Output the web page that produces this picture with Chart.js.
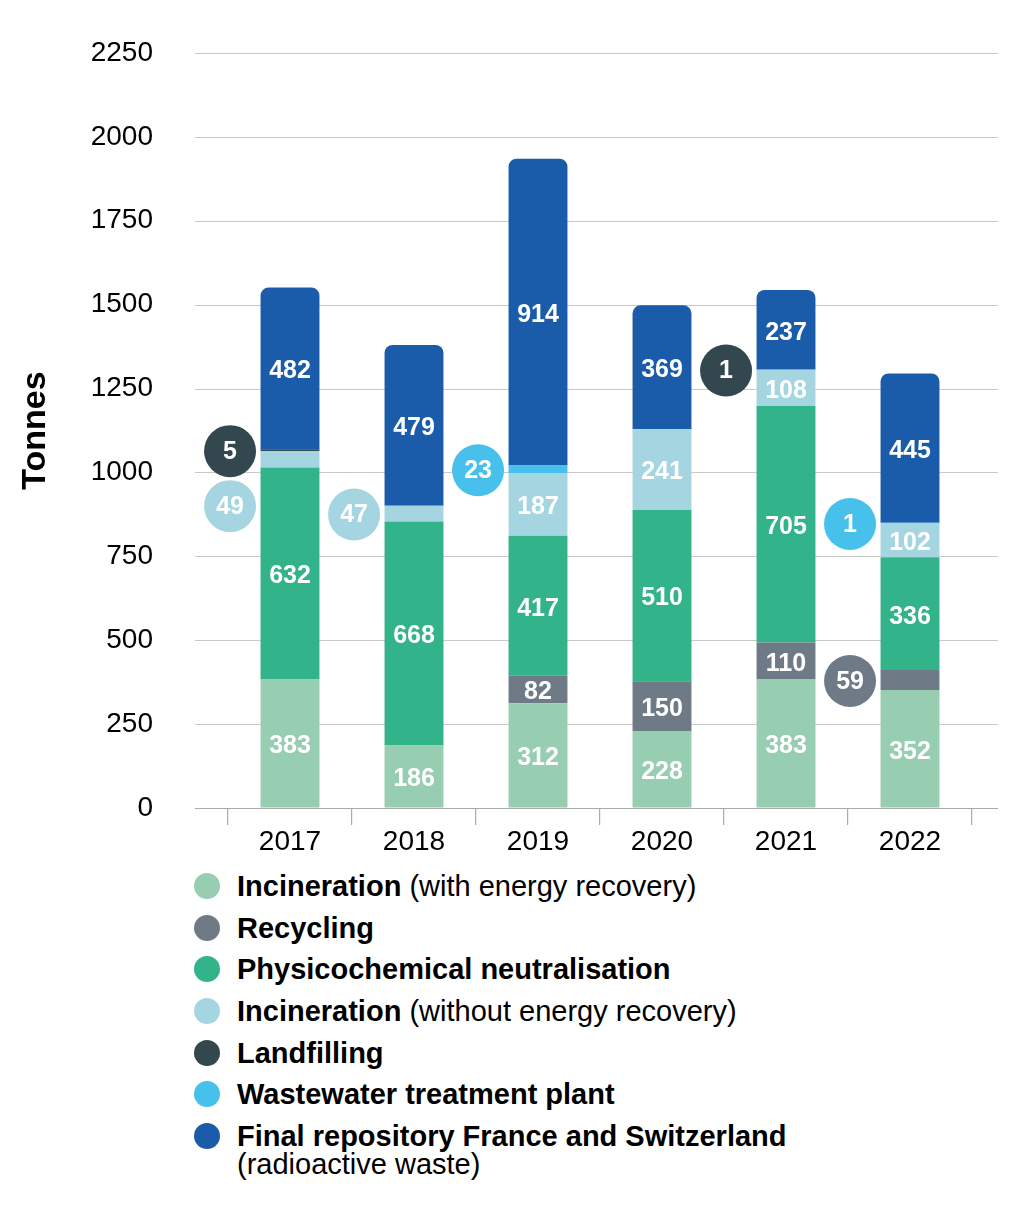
<!DOCTYPE html>
<html>
<head>
<meta charset="utf-8">
<script src="https://cdn.jsdelivr.net/npm/chart.js@4.4.1/dist/chart.umd.min.js"></script>
<style>
  html, body { margin: 0; padding: 0; background: #fff; }
  #wrap { position: relative; width: 1030px; height: 1227px; }
  #chart { position: absolute; left: 0; top: 0; }
  #legend {
    position: absolute; left: 194px; top: 872px;
    font-family: "Liberation Sans", Arial, sans-serif; font-size: 29px; color: #000;
  }
  .item { position: relative; padding-left: 43px; line-height: 28px; margin-bottom: 13.7px; white-space: pre-line; }
  .item b { font-weight: bold; }
  .dot { position: absolute; left: 0; top: 1px; width: 26px; height: 26px; border-radius: 50%; }
</style>
</head>
<body>
<div id="wrap">
  <canvas id="chart" width="1030" height="870" style="width:1030px;height:870px"></canvas>
  <div id="legend"></div>
</div>
<script>
// Datos del gráfico (toneladas por año)
const years = ["2017", "2018", "2019", "2020", "2021", "2022"];
const incinerationEnergy = [383, 186, 312, 228, 383, 352];
const recycling = [0, 0, 82, 150, 110, 59];
const physicochemical = [632, 668, 417, 510, 705, 336];
const incinerationNoEnergy = [49, 47, 187, 241, 108, 102];
const landfilling = [5, 0, 0, 0, 1, 0];
const wastewater = [0, 0, 23, 0, 0, 1];
const finalRepository = [482, 479, 914, 369, 237, 445];

const yMin = 0, yMax = 2250, yStep = 250;

const seriesNames = ["Incineration", "Recycling", "Physicochemical neutralisation", "Incineration",
  "Landfilling", "Wastewater treatment plant", "Final repository France and Switzerland"];
const seriesNotes = [" (with energy recovery)", "", "", " (without energy recovery)", "", "", "\n(radioactive waste)"];
const seriesColors = ["#97cdb0", "#6f7a87", "#33b389", "#a6d5e2", "#33474f", "#48c0ec", "#1a5ca9"];
const seriesValues = [incinerationEnergy, recycling, physicochemical, incinerationNoEnergy, landfilling, wastewater, finalRepository];

const FONT = '"Liberation Sans", Arial, sans-serif';

// Leyenda en HTML
const legend = document.getElementById("legend");
seriesNames.forEach((name, i) => {
  const item = document.createElement("div");
  item.className = "item";
  item.innerHTML = `<span class="dot" style="background:${seriesColors[i]}"></span><b>${name}</b>${seriesNotes[i]}`;
  legend.appendChild(item);
});

// Líneas de cuadrícula más anchas que el área de barras
const gridPlugin = {
  id: "wideGrid",
  beforeDatasetsDraw(chart) {
    const { ctx, chartArea, scales } = chart;
    ctx.save();
    ctx.strokeStyle = "#c8c8c8";
    ctx.lineWidth = 1.2;
    for (let v = yMin + yStep; v <= yMax; v += yStep) {
      const y = Math.round(scales.y.getPixelForValue(v)) + 0.5;
      ctx.beginPath();
      ctx.moveTo(chartArea.left - 33, y);
      ctx.lineTo(chartArea.right + 26, y);
      ctx.stroke();
    }
    ctx.restore();
  },
  afterDatasetsDraw(chart) {
    const { ctx, chartArea, scales } = chart;
    const y = Math.round(scales.y.getPixelForValue(0)) + 0.5;
    ctx.save();
    ctx.strokeStyle = "#aaaaaa";
    ctx.lineWidth = 1.2;
    ctx.beginPath();
    ctx.moveTo(chartArea.left - 33, y);
    ctx.lineTo(chartArea.right + 26, y);
    ctx.stroke();
    ctx.restore();
  }
};

// Etiquetas dentro de las barras y burbujas para valores pequeños
const labelPlugin = {
  id: "barLabels",
  afterDatasetsDraw(chart) {
    const { ctx } = chart;
    const bubbles = years.map(() => []);
    ctx.save();
    ctx.font = `bold 25px ${FONT}`;
    ctx.textAlign = "center";
    ctx.textBaseline = "middle";
    ctx.fillStyle = "#fff";
    chart.data.datasets.forEach((ds, di) => {
      const meta = chart.getDatasetMeta(di);
      meta.data.forEach((bar, i) => {
        const v = ds.data[i];
        if (!v) return;
        const mid = (bar.y + bar.base) / 2;
        if (v >= 70) {
          ctx.fillText(String(v), bar.x, mid + 3);
        } else {
          bubbles[i].push({ x: bar.x - bar.width / 2 - 30.5, y: mid, v, color: ds.backgroundColor });
        }
      });
    });
    const r = 26;
    bubbles.forEach(list => {
      list.sort((a, b) => a.y - b.y);
      let prev = null;
      list.forEach(b => {
        if (prev !== null && b.y < prev + 2 * r + 3) b.y = prev + 2 * r + 3;
        prev = b.y;
        ctx.beginPath();
        ctx.arc(b.x, b.y + 1, r, 0, Math.PI * 2);
        ctx.fillStyle = b.color;
        ctx.fill();
        ctx.fillStyle = "#fff";
        ctx.fillText(String(b.v), b.x, b.y + 2);
      });
    });
    ctx.restore();
  }
};

const datasets = seriesNames.map((name, i) => ({
  label: name + seriesNotes[i].replace("\n", " "),
  data: seriesValues[i],
  backgroundColor: seriesColors[i],
  borderWidth: 0,
  borderRadius: i === seriesNames.length - 1 ? 8 : 0,
  barPercentage: 0.95,
  categoryPercentage: 0.5
}));

new Chart(document.getElementById("chart"), {
  type: "bar",
  data: { labels: years, datasets: datasets },
  plugins: [gridPlugin, labelPlugin],
  options: {
    responsive: false,
    maintainAspectRatio: false,
    animation: false,
    layout: { padding: { top: 53, right: 58, bottom: 0, left: 0 } },
    plugins: { legend: { display: false }, tooltip: { enabled: false } },
    scales: {
      x: {
        stacked: true,
        grid: { display: true, drawOnChartArea: false, drawTicks: true, tickLength: 17, color: "#aaaaaa", lineWidth: 1.2, offset: true },
        border: { display: false },
        ticks: { font: { family: FONT, size: 28 }, color: "#000", padding: 0 },
        afterFit(scale) { scale.height = 62; }
      },
      y: {
        stacked: true,
        min: yMin,
        max: yMax,
        grid: { display: true, drawOnChartArea: false, drawTicks: true, tickLength: 70, tickColor: "rgba(0,0,0,0)" },
        border: { display: false },
        ticks: { stepSize: yStep, font: { family: FONT, size: 28 }, color: "#000", padding: 5,
          callback: (v) => String(v) },
        title: { display: true, text: "Tonnes", color: "#000", font: { family: FONT, size: 34, weight: "bold" }, padding: { top: 15, bottom: 0 } },
        afterFit(scale) { scale.width = 228; }
      }
    }
  }
});
</script>
</body>
</html>
